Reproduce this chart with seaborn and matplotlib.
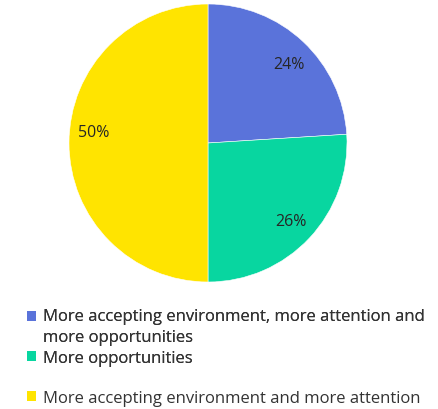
import matplotlib
matplotlib.use("Agg")
import matplotlib.pyplot as plt
from matplotlib.patches import Patch, Rectangle
from matplotlib.legend_handler import HandlerPatch
import seaborn as sns

categories = [
    "More accepting environment, more attention and\nmore opportunities",
    "More opportunities",
    "More accepting environment and more attention",
]
shares = [24, 26, 50]
colors = ["#5A73DA", "#08D6A0", "#FFE400"]

sns.set_theme(style="white")
plt.rcParams["font.family"] = ["Open Sans", "DejaVu Sans"]

fig = plt.figure(figsize=(4.39, 4.10), dpi=100)
fig.patch.set_facecolor("white")
ax = fig.add_axes([69 / 439, 127 / 410, 278 / 439, 278 / 410])

wedges, texts, autotexts = ax.pie(
    shares,
    colors=colors,
    startangle=90,
    counterclock=False,
    radius=1,
    autopct="%d%%",
    pctdistance=0.82,
    wedgeprops=dict(edgecolor="white", linewidth=0.4),
    textprops=dict(fontsize=11.5, color="#262626"),
)
# nudge the percentage labels slightly
x, y = autotexts[0].get_position()
autotexts[0].set_position((x + 0.02, y - 0.03))
x, y = autotexts[2].get_position()
autotexts[2].set_position((x, y + 0.08))

ax.set_xlim(-1, 1)
ax.set_ylim(-1, 1)
ax.set_aspect("equal")
ax.axis("off")

LEG_FS = 12
LINE_SPACING = 1.45


def top_aligned_square(shift):
    # keep the swatch level with the first line of a wrapped label
    def make(legend, orig_handle, xdescent, ydescent, width, height, fontsize):
        return Rectangle((-xdescent, -ydescent + shift), width, height)
    return make


handles = [Patch(facecolor=c, edgecolor="none") for c in colors]
common = dict(
    loc="upper left", frameon=False, fontsize=LEG_FS,
    handlelength=0.55, handleheight=0.55, handletextpad=0.4,
    borderpad=0, borderaxespad=0, labelcolor="#333333",
)
leg1 = fig.legend(
    handles[:2], categories[:2],
    bbox_to_anchor=(27 / 439, 1 - 309 / 410),
    labelspacing=0.25,
    handler_map={handles[0]: HandlerPatch(patch_func=top_aligned_square(7.6))},
    **common,
)
for t in leg1.get_texts():
    t.set_linespacing(LINE_SPACING)
fig.add_artist(leg1)
fig.legend(
    handles[2:], categories[2:],
    bbox_to_anchor=(27 / 439, 1 - 391 / 410),
    **common,
)

fig.savefig("out.png", dpi=100, facecolor="white")
